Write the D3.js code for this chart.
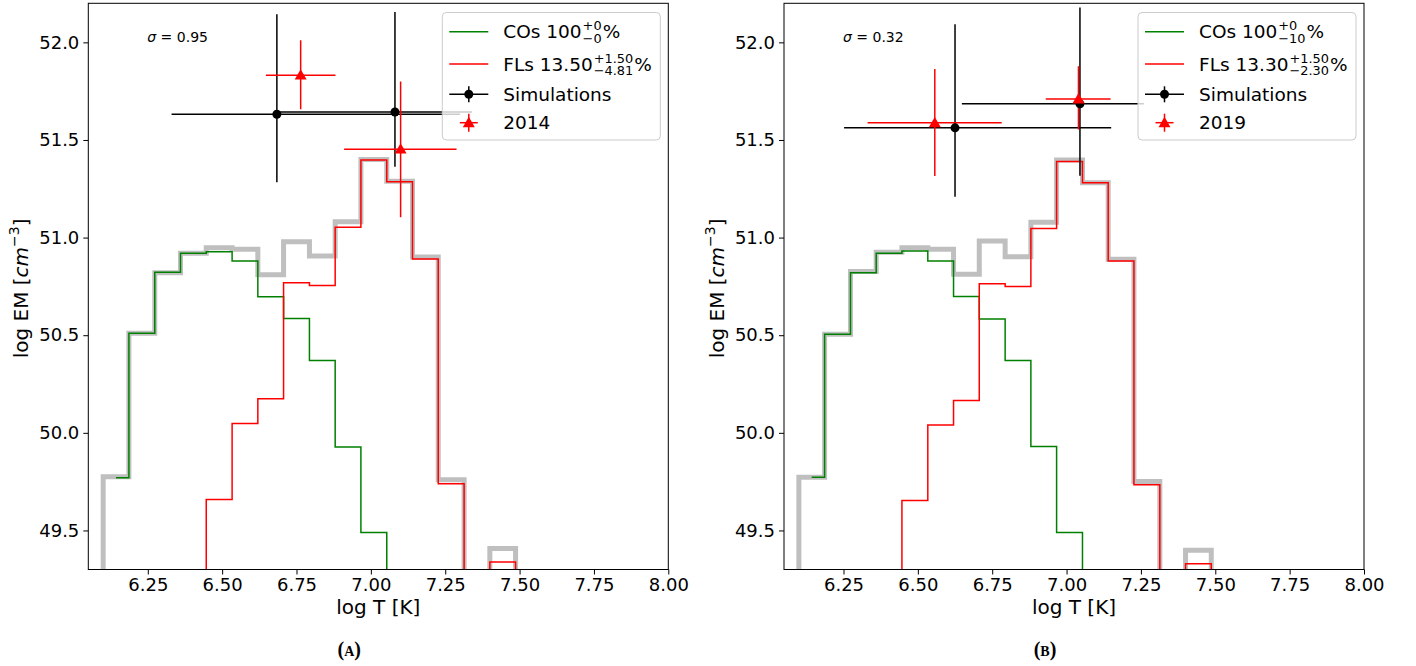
<!DOCTYPE html>
<html>
<head>
<meta charset="utf-8">
<script src="https://cdn.jsdelivr.net/npm/d3@7"></script>
<style>
  body { margin: 0; background: #fff; }
  svg { display: block; font-family: "DejaVu Sans", sans-serif; }
</style>
</head>
<body>
<svg id="chart" width="1416" height="666"></svg>
<script>
// ---- data ----
// bin centres of the log T histogram (steps change half way between them)
const binCenters = [6.057, 6.143, 6.230, 6.317, 6.403, 6.490, 6.577, 6.663, 6.750,
                    6.837, 6.923, 7.010, 7.097, 7.183, 7.270, 7.357, 7.443, 7.530];

// 48.8 = below the axis floor (bin empty)
const totalA = [48.8, 49.775, 50.510, 50.820, 50.920, 50.948, 50.940, 50.810, 50.979,
                50.906, 51.081, 51.400, 51.288, 50.900, 49.760, 48.8, 49.408, 48.8];
const cosA   = [null, 49.770, 50.510, 50.822, 50.920, 50.928, 50.880, 50.697, 50.585,
                50.370, 49.928, 49.490, 48.8, null, null, null, null, null];
const flsA   = [null, null, null, null, 48.8, 49.659, 50.048, 50.174, 50.769,
                50.754, 51.053, 51.397, 51.286, 50.890, 49.739, 48.8, 49.338, 48.8];

const totalB = [48.8, 49.773, 50.505, 50.826, 50.925, 50.948, 50.940, 50.812, 50.983,
                50.902, 51.078, 51.397, 51.281, 50.889, 49.751, 48.8, 49.398, 48.8];
const cosB   = [null, 49.773, 50.505, 50.820, 50.920, 50.931, 50.880, 50.698, 50.583,
                50.370, 49.930, 49.490, 48.8, null, null, null, null, null];
const flsB   = [null, null, null, null, 48.8, 49.654, 50.040, 50.165, 50.764,
                50.749, 51.047, 51.390, 51.281, 50.880, 49.734, 48.8, 49.330, 48.8];

// error-bar points: value, low and high ends of the bars
const simA = [
  { x: 6.684, y: 51.632, xl: 6.330, xh: 7.300, yl: 51.283, yh: 52.144 },
  { x: 7.081, y: 51.643, xl: 6.684, xh: 7.340, yl: 51.363, yh: 52.156 }
];
const obsA = [
  { x: 6.764, y: 51.832, xl: 6.647, xh: 6.881, yl: 51.657, yh: 52.011 },
  { x: 7.100, y: 51.453, xl: 6.910, xh: 7.288, yl: 51.104, yh: 51.800 }
];
const simB = [
  { x: 6.625, y: 51.562, xl: 6.252, xh: 7.150, yl: 51.209, yh: 52.093 },
  { x: 7.045, y: 51.685, xl: 6.648, xh: 7.260, yl: 51.317, yh: 52.179 }
];
const obsB = [
  { x: 6.557, y: 51.588, xl: 6.331, xh: 6.782, yl: 51.315, yh: 51.863 },
  { x: 7.040, y: 51.710, xl: 6.930, xh: 7.148, yl: 51.554, yh: 51.878 }
];

const xTicks = [6.25, 6.5, 6.75, 7.0, 7.25, 7.5, 7.75, 8.0];
const yTicks = [49.5, 50.0, 50.5, 51.0, 51.5, 52.0];
const xDomain = [6.05, 8.0];
const yDomain = [49.3, 52.2];

// ---- drawing ----
const svg = d3.select("#chart");
const tickSize = 18, legendSize = 18.5, labelSize = 20;

const panels = [
  { id: "A", left: 88.3, total: totalA, cos: cosA, fls: flsA, sim: simA, obs: obsA,
    sigma: "0.95", cosSup: "+0", cosSub: "\u22120", flsVal: "13.50", flsSup: "+1.50", flsSub: "\u22124.81",
    year: "2014", caption: "(a)" },
  { id: "B", left: 784, total: totalB, cos: cosB, fls: flsB, sim: simB, obs: obsB,
    sigma: "0.32", cosSup: "+0", cosSub: "\u221210", flsVal: "13.30", flsSup: "+1.50", flsSub: "\u22122.30",
    year: "2019", caption: "(b)" }
];

const plotW = 580, plotTop = 3.3, plotBottom = 569.5;

// text with a stacked super/subscript pair, like mathtext a^{+b}_{-c}
function scriptLabel(g, x, y, base, sup, sub, suffix) {
  const t = g.append("text").attr("x", x).attr("y", y)
    .attr("font-size", legendSize).text(base);
  const w = t.node().getComputedTextLength();
  const sx = x + w + 1;
  const s1 = g.append("text").attr("x", sx).attr("y", y - 8)
    .attr("font-size", 12.9).text(sup);
  const s2 = g.append("text").attr("x", sx).attr("y", y + 4.5)
    .attr("font-size", 12.9).text(sub);
  const sw = Math.max(s1.node().getComputedTextLength(), s2.node().getComputedTextLength());
  g.append("text").attr("x", sx + sw + 1).attr("y", y)
    .attr("font-size", legendSize).text(suffix);
}

function triangle(g, cx, cy, color) {
  g.append("path")
    .attr("d", d3.symbol().type(d3.symbolTriangle).size(62)())
    .attr("transform", `translate(${cx},${cy + 1})`)
    .attr("fill", color);
}

panels.forEach(p => {
  const x = d3.scaleLinear().domain(xDomain).range([p.left, p.left + plotW]);
  const y = d3.scaleLinear().domain(yDomain).range([plotBottom, plotTop]);

  const g = svg.append("g");

  g.append("clipPath").attr("id", "clip" + p.id)
    .append("rect")
    .attr("x", x(xDomain[0])).attr("y", y(yDomain[1]))
    .attr("width", plotW).attr("height", plotBottom - plotTop);

  const plot = g.append("g").attr("clip-path", `url(#clip${p.id})`);

  const step = vals => d3.line()
    .defined((d, i) => vals[i] !== null)
    .x((d, i) => x(binCenters[i]))
    .y((d, i) => y(vals[i]))
    .curve(d3.curveStep)(binCenters);

  plot.append("path").attr("d", step(p.total))
    .attr("fill", "none").attr("stroke", "#bfbfbf").attr("stroke-width", 5);
  plot.append("path").attr("d", step(p.cos))
    .attr("fill", "none").attr("stroke", "green").attr("stroke-width", 1.5);
  plot.append("path").attr("d", step(p.fls))
    .attr("fill", "none").attr("stroke", "red").attr("stroke-width", 1.5);

  // error bars
  const bars = (data, color) => {
    data.forEach(d => {
      plot.append("line")
        .attr("x1", x(d.xl)).attr("x2", x(d.xh))
        .attr("y1", y(d.y)).attr("y2", y(d.y))
        .attr("stroke", color).attr("stroke-width", 1.5);
      plot.append("line")
        .attr("x1", x(d.x)).attr("x2", x(d.x))
        .attr("y1", y(d.yl)).attr("y2", y(d.yh))
        .attr("stroke", color).attr("stroke-width", 1.5);
    });
  };
  bars(p.sim, "black");
  bars(p.obs, "red");
  p.sim.forEach(d => plot.append("circle")
    .attr("cx", x(d.x)).attr("cy", y(d.y)).attr("r", 4.5).attr("fill", "black"));
  p.obs.forEach(d => triangle(plot, x(d.x), y(d.y), "red"));

  // axes
  const xAxis = g.append("g")
    .attr("transform", `translate(0,${plotBottom})`)
    .call(d3.axisBottom(x).tickValues(xTicks).tickFormat(d3.format(".2f")).tickSize(5).tickPadding(4));
  const yAxis = g.append("g")
    .attr("transform", `translate(${p.left},0)`)
    .call(d3.axisLeft(y).tickValues(yTicks).tickFormat(d3.format(".1f")).tickSize(5).tickPadding(4));
  [xAxis, yAxis].forEach(a => {
    a.select(".domain").remove();
    a.selectAll("text").attr("font-size", tickSize).attr("font-family", "DejaVu Sans").attr("fill", "#000");
    a.selectAll("line").attr("stroke", "#000").attr("stroke-width", 1);
  });

  g.append("rect")
    .attr("x", x(xDomain[0])).attr("y", plotTop)
    .attr("width", plotW).attr("height", plotBottom - plotTop)
    .attr("fill", "none").attr("stroke", "#000").attr("stroke-width", 1);

  // axis labels
  g.append("text")
    .attr("x", p.left + plotW / 2).attr("y", 614)
    .attr("text-anchor", "middle").attr("font-size", labelSize)
    .text("log T [K]");

  const yl = g.append("text")
    .attr("transform", `translate(${p.left - 60},${(plotTop + plotBottom) / 2 + 2}) rotate(-90)`)
    .attr("text-anchor", "middle").attr("font-size", labelSize);
  yl.append("tspan").text("log EM [");
  yl.append("tspan").attr("font-style", "italic").text("cm");
  yl.append("tspan").attr("font-size", 14).attr("dy", -9).text("\u22123");
  yl.append("tspan").attr("dy", 9).text("]");

  // sigma annotation
  const sg = g.append("text")
    .attr("x", p.left + 59).attr("y", 42).attr("font-size", 14);
  sg.append("tspan").attr("font-style", "italic").text("\u03c3");
  sg.append("tspan").text(" = " + p.sigma);

  // legend
  const lx = p.left + 354, ly = 12.5, lw = 218, lh = 127.5;
  const leg = g.append("g");
  leg.append("rect")
    .attr("x", lx).attr("y", ly).attr("width", lw).attr("height", lh)
    .attr("rx", 4).attr("fill", "white").attr("fill-opacity", 0.8)
    .attr("stroke", "#cccccc").attr("stroke-width", 1);

  const hx1 = lx + 7, hx2 = lx + 46, hc = (hx1 + hx2) / 2, tx = lx + 61;
  const rows = [31.7, 64, 94.3, 122.7];

  leg.append("line").attr("x1", hx1).attr("x2", hx2).attr("y1", rows[0]).attr("y2", rows[0])
    .attr("stroke", "green").attr("stroke-width", 1.5);
  scriptLabel(leg, tx, rows[0] + 6.7, "COs 100", p.cosSup, p.cosSub, "%");

  leg.append("line").attr("x1", hx1).attr("x2", hx2).attr("y1", rows[1]).attr("y2", rows[1])
    .attr("stroke", "red").attr("stroke-width", 1.5);
  scriptLabel(leg, tx, rows[1] + 6.7, "FLs " + p.flsVal, p.flsSup, p.flsSub, "%");

  leg.append("line").attr("x1", hx1).attr("x2", hx2).attr("y1", rows[2]).attr("y2", rows[2])
    .attr("stroke", "black").attr("stroke-width", 1.5);
  leg.append("line").attr("x1", hc).attr("x2", hc).attr("y1", rows[2] - 8).attr("y2", rows[2] + 8)
    .attr("stroke", "black").attr("stroke-width", 1.5);
  leg.append("circle").attr("cx", hc).attr("cy", rows[2]).attr("r", 4.5).attr("fill", "black");
  leg.append("text").attr("x", tx).attr("y", rows[2] + 6.7).attr("font-size", legendSize).text("Simulations");

  leg.append("line").attr("x1", hc - 9).attr("x2", hc + 9).attr("y1", rows[3]).attr("y2", rows[3])
    .attr("stroke", "red").attr("stroke-width", 1.5);
  leg.append("line").attr("x1", hc).attr("x2", hc).attr("y1", rows[3] - 9).attr("y2", rows[3] + 9)
    .attr("stroke", "red").attr("stroke-width", 1.5);
  triangle(leg, hc, rows[3], "red");
  leg.append("text").attr("x", tx).attr("y", rows[3] + 6.7).attr("font-size", legendSize).text(p.year);

  // caption
  g.append("text")
    .attr("x", p.left + plotW / 2 - 29).attr("y", 656)
    .attr("text-anchor", "middle")
    .attr("font-family", "Liberation Serif, serif").attr("font-weight", "bold")
    .attr("font-variant", "small-caps").attr("font-size", 20)
    .text(p.caption);
});
</script>
</body>
</html>
